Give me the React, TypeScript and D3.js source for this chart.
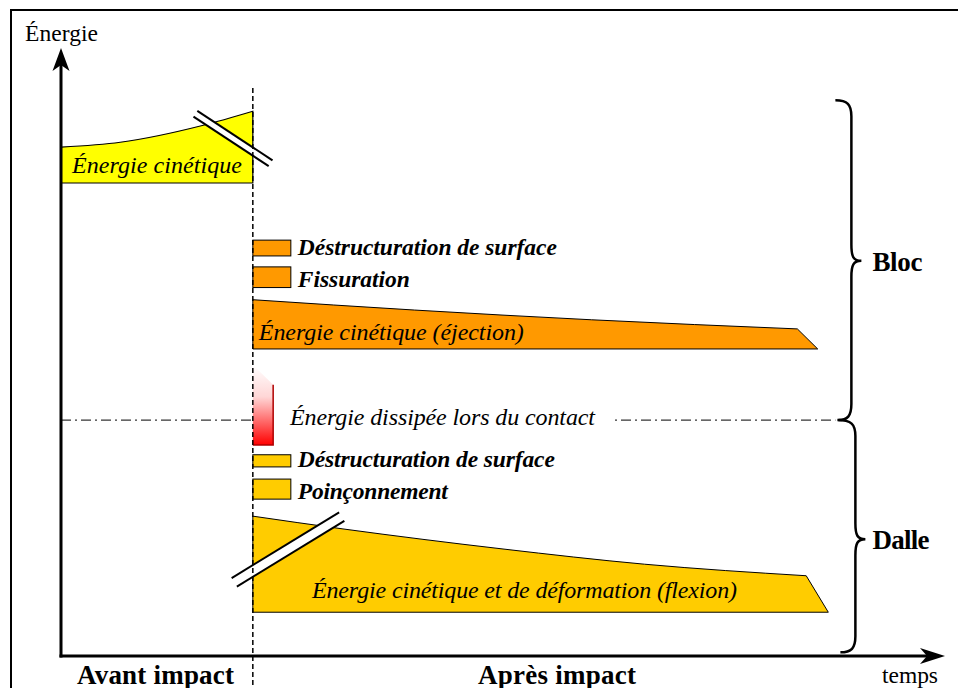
import * as React from "react";
import * as d3 from "d3";

// time axis (arbitrary units) and energy axis (arbitrary units)
const impactTime = 21.7;
const separatorEnergy = 38.8;

// Avant impact : énergie cinétique du bloc
const preKineticTop: [number, number][] = [[0, 83.7], [6.7, 84.5], [16.1, 87.3], [21.7, 89.6]];
const preKineticBase = 77.8;

// Bloc
const barEnd = 26.0;
const blocBars = [
  { label: "Déstructuration de surface", lo: 65.8, hi: 68.4, width: 259 },
  { label: "Fissuration", lo: 60.6, hi: 64.0, width: 112 },
];
const ejectionTop: [number, number][] = [[21.7, 58.6], [40, 56.9], [60, 55.3], [83.3, 53.8]];
const ejectionEnd = 85.6;
const ejectionBase = 50.5;

// contact
const dissipated = { t1: 24.0, topLeft: 47.9, topRight: 44.6, base: 34.7 };

// Dalle
const dalleBars = [
  { label: "Déstructuration de surface", lo: 31.1, hi: 33.1, width: 257 },
  { label: "Poinçonnement", lo: 25.8, hi: 29.1, width: 150 },
];
const flexionTop: [number, number][] = [[21.7, 23.0], [31.9, 20.9], [50, 17.6], [66, 15.1], [84.3, 13.2]];
const flexionEnd = 86.8;
const flexionBase = 7.2;

const braces = [
  { label: "Bloc", top: 91.4, bottom: separatorEnergy, tip: 65.0, width: 50 },
  { label: "Dalle", top: separatorEnergy, bottom: 0.6, tip: 19.2, width: 57 },
];

const W = 958;
const H = 688;
const SERIF = "'Liberation Serif', Tinos, 'Times New Roman', serif";

// text style helper: inline style wins over any inherited font
function ts(size: number, italic = false, bold = false): React.CSSProperties {
  return {
    fontFamily: SERIF,
    fontSize: size,
    fontStyle: italic ? "italic" : "normal",
    fontWeight: bold ? "bold" : "normal",
  };
}

const x = d3.scaleLinear().domain([0, 100]).range([61, 945]);
const y = d3.scaleLinear().domain([0, 100]).range([656, 48]);

const curveLine = d3.line<[number, number]>().x(d => x(d[0])).y(d => y(d[1])).curve(d3.curveMonotoneX);

// closed shape: curved top, then straight diagonal to the base end
function shapePath(top: [number, number][], endT: number, base: number) {
  const t = curveLine(top) as string;
  return `${t}L${x(endT)},${y(base)}L${x(top[0][0])},${y(base)}Z`;
}

function breakMark(cx: number, cy: number, dx: number, dy: number, half: number, gap: number) {
  const l = Math.hypot(dx, dy);
  const ux = dx / l, uy = dy / l;
  const nx = -uy, ny = ux;
  const g = gap / 2;
  const p = (s: number, o: number) => [cx + ux * s + nx * o, cy + uy * s + ny * o];
  const a1 = p(-half, -g), a2 = p(half, -g), b1 = p(-half, g), b2 = p(half, g);
  return (
    <g>
      <polygon points={[a1, a2, b2, b1].map(q => q.join(",")).join(" ")} fill="#fff" />
      <line x1={a1[0]} y1={a1[1]} x2={a2[0]} y2={a2[1]} stroke="#000" strokeWidth={2} />
      <line x1={b1[0]} y1={b1[1]} x2={b2[0]} y2={b2[1]} stroke="#000" strokeWidth={2} />
    </g>
  );
}

function bracePath(bx: number, y0: number, y1: number, ym: number, w: number) {
  const tip = 10, r = 16;
  const v = bx + w;
  return `M${bx},${y0} C${v - 4},${y0} ${v},${y0 + 4} ${v},${y0 + r}` +
    ` L${v},${ym - r} C${v},${ym - 4} ${v + 2},${ym} ${v + tip},${ym}` +
    ` C${v + 2},${ym} ${v},${ym + 4} ${v},${ym + r}` +
    ` L${v},${y1 - r} C${v},${y1 - 4} ${v - 4},${y1} ${bx + 3},${y1}`;
}

export default function App() {
  const xi = x(impactTime);
  const xSep = x(87.6);
  const x0 = x(0), y0 = y(0), yTop = y(100), xEnd = x(100);

  return (
    <svg width={W} height={H} style={{ position: "absolute", left: 0, top: 0, background: "#fff", fontFamily: SERIF }}>
      <defs>
        <linearGradient id="dissip" x1="0" y1="0" x2="0" y2="1">
          <stop offset="0" stopColor="#ffffff" />
          <stop offset="0.4" stopColor="#ffd6d6" />
          <stop offset="1" stopColor="#ff0000" />
        </linearGradient>
      </defs>

      <rect x={11} y={10} width={970} height={700} fill="#fff" stroke="#000" strokeWidth={2} />

      {/* avant impact */}
      <path d={shapePath(preKineticTop, impactTime, preKineticBase)} fill="#ffff00" stroke="#000" strokeWidth={1.2} />
      <text x={72} y={173} style={ts(24, true)} textLength={170}>Énergie cinétique</text>
      {breakMark(233, 138.5, 76, 50, 45, 7)}

      {/* bloc */}
      {blocBars.map(b => (
        <g key={b.label}>
          <rect x={xi} y={y(b.hi)} width={x(barEnd) - xi} height={y(b.lo) - y(b.hi)} fill="#ff9900" stroke="#000" strokeWidth={1} />
          <text x={x(barEnd) + 7} y={y(b.lo) - 1} style={ts(23.5, true, true)} textLength={b.width}>{b.label}</text>
        </g>
      ))}
      <path d={shapePath(ejectionTop, ejectionEnd, ejectionBase)} fill="#ff9900" stroke="#000" strokeWidth={1} />
      <text x={xi + 6} y={y(ejectionBase) - 9} style={ts(24, true)} textLength={265}>Énergie cinétique (éjection)</text>

      {/* séparation */}
      <line x1={x0} x2={xSep} y1={y(separatorEnergy)} y2={y(separatorEnergy)} stroke="#000" strokeWidth={1} strokeDasharray="10,4,2,4" />
      <rect x={x(dissipated.t1) + 1} y={y(separatorEnergy) - 16} width={612 - x(dissipated.t1)} height={30} fill="#fff" />
      <path
        d={`M${xi},${y(dissipated.topLeft)}L${x(dissipated.t1)},${y(dissipated.topRight)}L${x(dissipated.t1)},${y(dissipated.base)}L${xi},${y(dissipated.base)}Z`}
        fill="url(#dissip)" />
      <path d={`M${x(dissipated.t1)},${y(dissipated.topRight)}L${x(dissipated.t1)},${y(dissipated.base)}L${xi},${y(dissipated.base)}`}
        fill="none" stroke="#b00000" strokeWidth={1.5} />
      <text x={290} y={y(separatorEnergy) + 5} style={ts(24, true)} textLength={305}>Énergie dissipée lors du contact</text>

      {/* dalle */}
      {dalleBars.map(b => (
        <g key={b.label}>
          <rect x={xi} y={y(b.hi)} width={x(barEnd) - xi} height={y(b.lo) - y(b.hi)} fill="#ffcc00" stroke="#000" strokeWidth={1} />
          <text x={x(barEnd) + 7} y={y(b.lo)} style={ts(23.5, true, true)} textLength={b.width}>{b.label}</text>
        </g>
      ))}
      <path d={shapePath(flexionTop, flexionEnd, flexionBase)} fill="#ffcc00" stroke="#000" strokeWidth={1} />
      <text x={312} y={598} style={ts(24, true)} textLength={425}>Énergie cinétique et de déformation (flexion)</text>
      {breakMark(288, 549.5, 108, -66, 63, 10)}

      {/* impact line */}
      <line x1={xi} x2={xi} y1={88} y2={H} stroke="#000" strokeWidth={1.5} strokeDasharray="5,3" />

      {/* axes */}
      <line x1={x0} x2={x0} y1={y0 + 1.5} y2={yTop + 14} stroke="#000" strokeWidth={3} />
      <path d={`M${x0},${yTop} L${x0 + 8.5},${yTop + 23} L${x0},${yTop + 17} L${x0 - 8.5},${yTop + 23}Z`} fill="#000" />
      <line x1={x0 - 1.5} x2={xEnd - 14} y1={y0} y2={y0} stroke="#000" strokeWidth={3} />
      <path d={`M${xEnd},${y0} L${xEnd - 25},${y0 + 8} L${xEnd - 18},${y0} L${xEnd - 25},${y0 - 8}Z`} fill="#000" />
      <text x={25} y={41} style={ts(23.5)} textLength={73}>Énergie</text>
      <text x={882} y={683} style={ts(23.5)} textLength={56}>temps</text>

      {/* accolades */}
      {braces.map((b, i) => (
        <g key={b.label}>
          <path d={bracePath(xSep + i * 2, y(b.top), y(b.bottom), y(b.tip), 16 + i * 2)} fill="none" stroke="#000" strokeWidth={2.5} />
          <text x={xSep + 37} y={y(b.tip) + 10} style={ts(27, false, true)} textLength={b.width}>{b.label}</text>
        </g>
      ))}

      <text x={77} y={684} style={ts(27, false, true)} textLength={157}>Avant impact</text>
      <text x={478} y={684} style={ts(27, false, true)} textLength={158}>Après impact</text>
    </svg>
  );
}
